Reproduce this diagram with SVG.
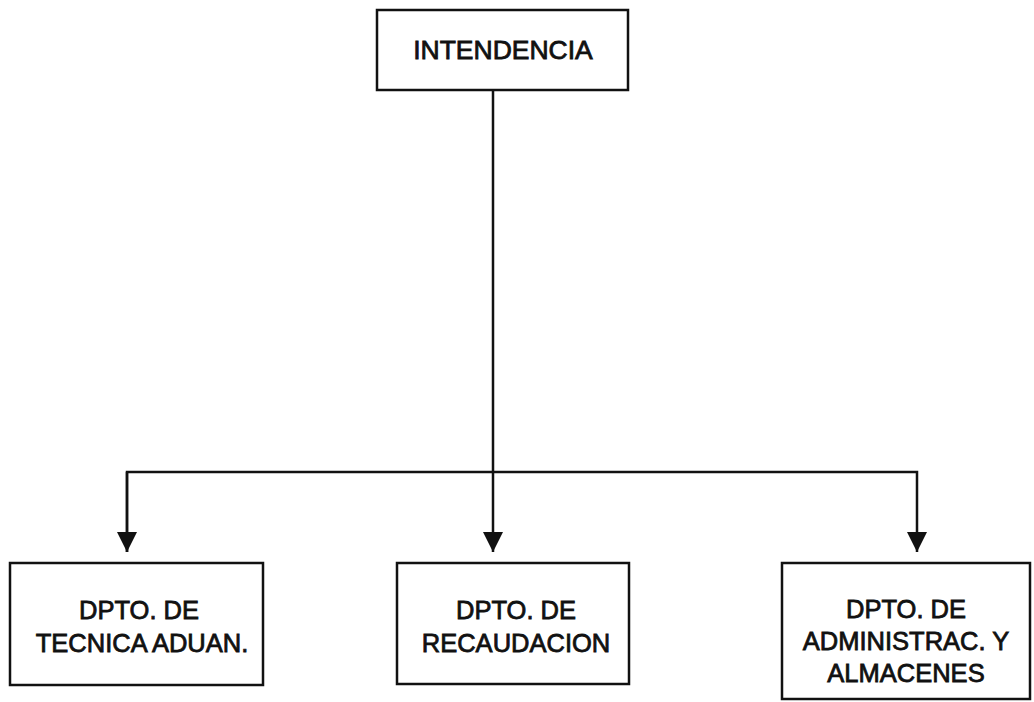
<svg xmlns="http://www.w3.org/2000/svg" width="1034" height="702" viewBox="0 0 1034 702">
<style>
.box{fill:#fff;stroke:#111;stroke-width:2.5}
.lbl{font-family:"Liberation Sans",Arial,sans-serif;font-size:25.5px;fill:#111;stroke:#111;stroke-width:0.8;text-anchor:middle}
.conn{fill:none;stroke:#111;stroke-width:2.5}
</style>
<defs>
<marker id="arr" viewBox="0 0 20 20" refX="20" refY="10" markerWidth="20" markerHeight="20" markerUnits="userSpaceOnUse" orient="auto">
<path d="M0,0 L20,10 L0,20 Z" fill="#111"/>
</marker>
</defs>
<rect width="1034" height="702" fill="#fff"/>
<g id="connectors">
<line class="conn" x1="493" y1="90" x2="493" y2="552" marker-end="url(#arr)"/>
<polyline class="conn" points="127,552 127,472 917,472 917,552" marker-end="url(#arr)"/>
<path class="conn" d="M127,472 L127,552" marker-end="url(#arr)"/>
</g>
<g id="intendencia">
<rect class="box" x="377" y="10" width="251" height="80"/>
<text class="lbl" x="503" y="59" style="font-size:26.5px">INTENDENCIA</text>
</g>
<g id="tecnica">
<rect class="box" x="10" y="563" width="253" height="122"/>
<text class="lbl" x="139" y="619">DPTO. DE</text>
<text class="lbl" x="142" y="652">TECNICA ADUAN.</text>
</g>
<g id="recaudacion">
<rect class="box" x="397" y="563" width="232" height="121"/>
<text class="lbl" x="516" y="619">DPTO. DE</text>
<text class="lbl" x="516" y="652">RECAUDACION</text>
</g>
<g id="administracion">
<rect class="box" x="782" y="563" width="248" height="136"/>
<text class="lbl" x="906" y="618">DPTO. DE</text>
<text class="lbl" x="906" y="650">ADMINISTRAC. Y</text>
<text class="lbl" x="906" y="682">ALMACENES</text>
</g>
</svg>
